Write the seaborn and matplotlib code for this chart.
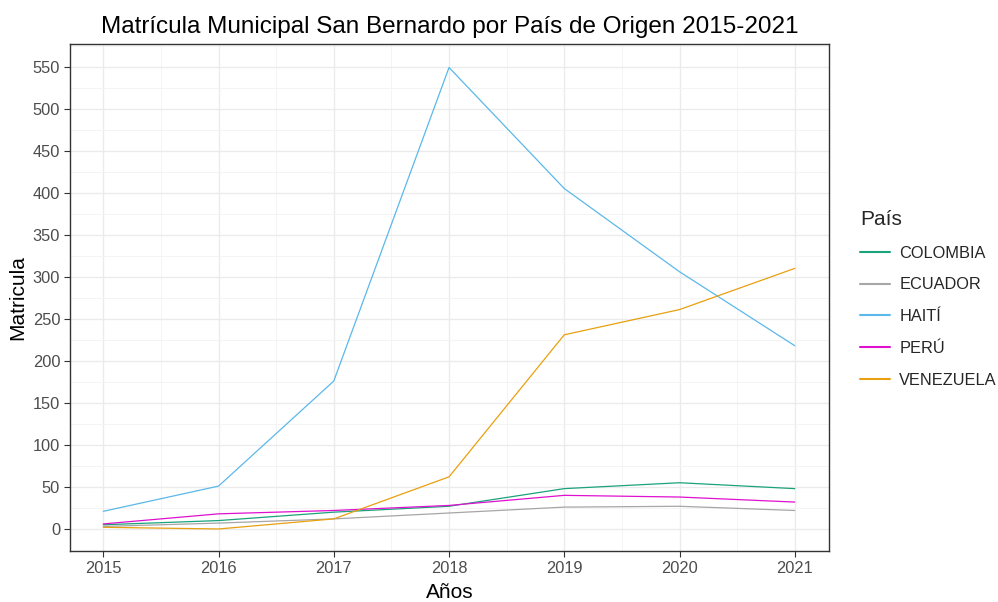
import matplotlib
matplotlib.use("Agg")
import matplotlib.pyplot as plt
import seaborn as sns
import pandas as pd

years = [2015, 2016, 2017, 2018, 2019, 2020, 2021]
colombia = [5, 10, 20, 27, 48, 55, 48]
ecuador = [3, 7, 12, 19, 26, 27, 22]
haiti = [21, 51, 176, 549, 405, 306, 218]
peru = [6, 18, 22, 28, 40, 38, 32]
venezuela = [2, 0, 12, 62, 231, 261, 310]
paises = ["COLOMBIA", "ECUADOR", "HAITÍ", "PERÚ", "VENEZUELA"]
colores = ["#1AA37A", "#A6A6A6", "#5BB8EA", "#E010D0", "#E8A010"]

rows = []
for p, vals in zip(paises, [colombia, ecuador, haiti, peru, venezuela]):
    for y, v in zip(years, vals):
        rows.append({"Años": y, "Matricula": v, "País": p})
df = pd.DataFrame(rows)

sns.set_theme(style="whitegrid")
plt.rcParams['font.family'] = ['Liberation Sans', 'DejaVu Sans']

fig = plt.figure(figsize=(9.98, 6.02), dpi=100)
ax = fig.add_axes([0.070, 0.085, 0.761, 0.842])
sns.lineplot(data=df, x="Años", y="Matricula", hue="País", hue_order=paises,
             palette=colores, linewidth=0.9, ax=ax, legend=True)

ax.set_xlim(2014.71, 2021.3)
ax.set_ylim(-26, 577)
ax.set_xticks(years)
ax.set_xticks([y + 0.5 for y in years[:-1]], minor=True)
ax.set_yticks(range(0, 551, 50))
ax.set_yticks(range(25, 576, 50), minor=True)
ax.grid(which="major", color="#EBEBEB", linewidth=1.0)
ax.grid(which="minor", color="#F3F3F3", linewidth=0.6)
for s in ax.spines.values():
    s.set_color("#333333")
    s.set_linewidth(1.0)
ax.tick_params(axis="both", which="major", labelsize=11.8, labelcolor="#4D4D4D",
               color="#333333", length=4, width=0.8, direction="out", left=True, bottom=True, pad=3)
ax.tick_params(which="minor", length=0)
ax.set_xlabel("Años", fontsize=15, color="black", labelpad=5.5)
ax.set_ylabel("Matricula", fontsize=15, color="black", labelpad=4)
ax.set_title("Matrícula Municipal San Bernardo por País de Origen 2015-2021",
             fontsize=17.5, color="black", pad=8)

leg = ax.legend(title="País", loc="upper left",
                bbox_to_anchor=(860 / 998, 1 - 210 / 602), bbox_transform=fig.transFigure,
                borderpad=0, borderaxespad=0,
                frameon=False, fontsize=11.8, title_fontsize=15,
                handlelength=1.8, labelspacing=1.02, handletextpad=0.6)
leg._legend_box.align = "left"
for line in leg.get_lines():
    line.set_linewidth(1.5)

fig.savefig("out.png", dpi=100)
